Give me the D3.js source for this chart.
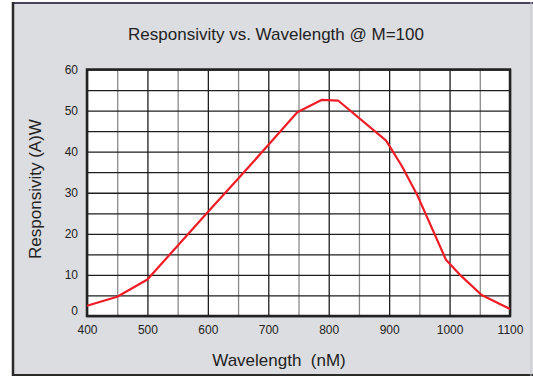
<!DOCTYPE html>
<meta charset="utf-8">
<title>Responsivity vs. Wavelength @ M=100</title>
<style>
    body {
        margin: 0;
        background: #fff;
    }

    svg {
        display: block;
        font-family: "Liberation Sans", Arial, Helvetica, sans-serif;
    }

    .axis text {
        fill: #222;
        font-size: 12px;
    }

    .axis .domain {
        display: none;
    }
</style>

<body>
    <div id="chart"></div>

    <script src="https://cdn.jsdelivr.net/npm/d3@7"></script>
    <script>
        // values
        var wavelength = [400, 450, 500, 550, 600, 650, 700, 748, 788, 816, 895, 921, 946, 994, 1016, 1053, 1100];
        var responsivity = [2.5, 4.7, 8.9, 17.1, 25.3, 33.4, 41.6, 49.6, 52.6, 52.4, 42.7, 36.5, 29.6, 13.7, 10.2, 5.1, 1.7];

        var xTicks = [400, 500, 600, 700, 800, 900, 1000, 1100];
        var xMinor = [450, 550, 650, 750, 850, 950, 1050];
        var yTicks = [0, 10, 20, 30, 40, 50, 60];
        var yMinor = [5, 15, 25, 35, 45, 55];

        var title = "Responsivity vs. Wavelength @ M=100";
        var xLabel = "Wavelength\u00a0\u00a0(nM)";
        var yLabel = "Responsivity (A)W";

        // set the dimensions and margins of the graph
        var W = 533,
            H = 377;
        var margin = {
                top: 69.5,
                right: 23,
                bottom: 61,
                left: 87
            },
            width = W - margin.left - margin.right,
            height = H - margin.top - margin.bottom;

        var svg = d3.select("#chart")
            .append("svg")
            .attr("width", W)
            .attr("height", H);

        // grey panel with dark frame
        svg.append("rect")
            .attr("x", 12)
            .attr("y", 2)
            .attr("width", W - 12)
            .attr("height", 373)
            .attr("fill", "#dcdde0");
        svg.append("line")
            .attr("x1", 12).attr("x2", W)
            .attr("y1", 3).attr("y2", 3)
            .attr("stroke", "#48425a").attr("stroke-width", 2);
        svg.append("line")
            .attr("x1", 13).attr("x2", 13)
            .attr("y1", 2).attr("y2", 376)
            .attr("stroke", "#2a2a2a").attr("stroke-width", 2.5);
        svg.append("line")
            .attr("x1", 12).attr("x2", W)
            .attr("y1", 375).attr("y2", 375)
            .attr("stroke", "#2a2a2a").attr("stroke-width", 2);
        svg.append("line")
            .attr("x1", 531).attr("x2", 531)
            .attr("y1", 2).attr("y2", 376)
            .attr("stroke", "#c4c4ca").attr("stroke-width", 1);

        // title
        svg.append("text")
            .attr("x", 276)
            .attr("y", 40)
            .attr("text-anchor", "middle")
            .attr("font-size", "17px")
            .attr("fill", "#222")
            .text(title);

        var g = svg.append("g")
            .attr("transform", "translate(" + margin.left + "," + margin.top + ")");

        var x = d3.scaleLinear()
            .domain([400, 1100])
            .range([0, width]);

        var y = d3.scaleLinear()
            .domain([0, 60])
            .range([height, 0]);

        // plot background
        g.append("rect")
            .attr("width", width)
            .attr("height", height)
            .attr("fill", "#fff");

        // minor vertical grid (grey)
        g.append("g")
            .attr("class", "grid")
            .attr("transform", "translate(0," + height + ")")
            .call(d3.axisBottom(x).tickValues(xMinor).tickSize(-height).tickFormat(""))
            .call(function(s) {
                s.select(".domain").remove();
                s.selectAll("line").attr("stroke", "#8a8a8a").attr("stroke-width", 1.3);
            });

        // minor horizontal grid
        g.append("g")
            .attr("class", "grid")
            .call(d3.axisLeft(y).tickValues(yMinor).tickSize(-width).tickFormat(""))
            .call(function(s) {
                s.select(".domain").remove();
                s.selectAll("line").attr("stroke", "#1e1e1e").attr("stroke-width", 1.3);
            });

        // x axis with major grid
        g.append("g")
            .attr("class", "axis")
            .attr("transform", "translate(0," + height + ")")
            .call(d3.axisBottom(x).tickValues(xTicks).tickFormat(d3.format("d"))
                .tickSize(-height).tickPadding(9))
            .call(function(s) {
                s.selectAll("line").attr("stroke", "#1e1e1e").attr("stroke-width", 1.3);
            });

        // y axis with major grid
        g.append("g")
            .attr("class", "axis")
            .call(d3.axisLeft(y).tickValues(yTicks).tickFormat(d3.format("d"))
                .tickSize(-width).tickPadding(9))
            .call(function(s) {
                s.selectAll("line").attr("stroke", "#1e1e1e").attr("stroke-width", 1.3);
                s.selectAll("text").attr("dy", function(d) {
                    return d === 0 ? "-0.1em" : "0.32em";
                });
            });

        // plot frame
        g.append("rect")
            .attr("width", width)
            .attr("height", height)
            .attr("fill", "none")
            .attr("stroke", "#222")
            .attr("stroke-width", 2.5);

        // the curve
        var line = d3.line()
            .x(function(d, i) {
                return x(wavelength[i]);
            })
            .y(function(d) {
                return y(d);
            });

        g.append("path")
            .datum(responsivity)
            .attr("d", line)
            .attr("fill", "none")
            .attr("stroke", "#ee1c25")
            .attr("stroke-width", 2.2)
            .attr("stroke-linejoin", "round");

        // axis labels
        svg.append("text")
            .attr("x", 279)
            .attr("y", 366)
            .attr("text-anchor", "middle")
            .attr("font-size", "17px")
            .attr("fill", "#222")
            .text(xLabel);

        svg.append("text")
            .attr("transform", "translate(41,189) rotate(-90)")
            .attr("text-anchor", "middle")
            .attr("font-size", "17px")
            .attr("fill", "#222")
            .text(yLabel);
    </script>
</body>
